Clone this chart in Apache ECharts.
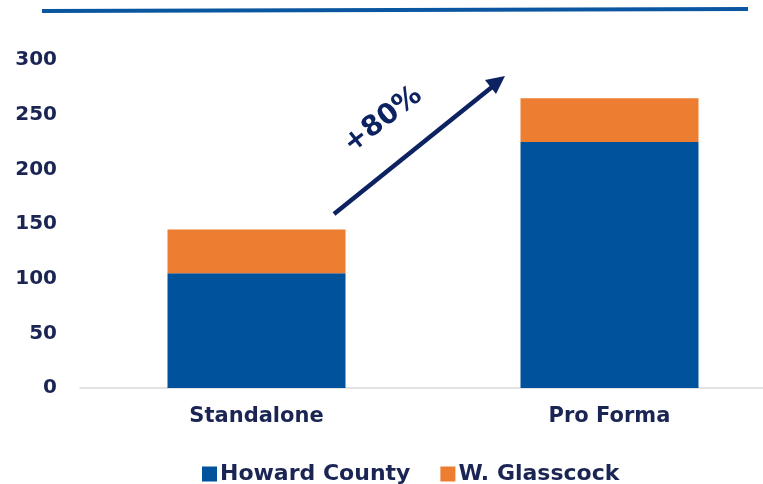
<!DOCTYPE html>
<html>
<head>
<meta charset="utf-8">
<script src="https://cdn.jsdelivr.net/npm/echarts@6/dist/echarts.min.js"></script>
<style>
  html, body { margin: 0; padding: 0; background: #fff; }
  #chart1 { width: 763px; height: 484px; }
</style>
</head>
<body>
<div id="chart1"></div>
<script>
var categories = ['Standalone', 'Pro Forma'];
var howardCounty = [105, 225];
var wGlasscock = [40, 40];
var yTicks = [0, 50, 100, 150, 200, 250, 300];
var growthLabel = '+80%';

var navy = '#1b2553';
var font = 'DejaVu Sans';

var chart = echarts.init(document.getElementById('chart1'));

var option = {
    animation: false,
    grid: { left: 80, width: 706, top: 60, bottom: 96, outerBoundsMode: 'none', containLabel: false },
    legend: {
        left: 197,
        top: 458,
        itemWidth: 15,
        itemHeight: 15,
        itemGap: 30,
        icon: 'rect',
        textStyle: { color: navy, fontFamily: font, fontWeight: 'bold', fontSize: 22, padding: [0, 0, 0, -2] },
        data: ['Howard County', 'W. Glasscock']
    },
    xAxis: {
        type: 'category',
        data: categories,
        axisTick: { show: false },
        axisLine: { lineStyle: { color: '#d9d9d9', width: 1.5 } },
        axisLabel: { color: navy, fontFamily: font, fontWeight: 'bold', fontSize: 21, margin: 18 }
    },
    yAxis: {
        type: 'value',
        min: yTicks[0],
        max: yTicks[yTicks.length - 1],
        interval: 50,
        splitLine: { show: false },
        axisLine: { show: false },
        axisTick: { show: false },
        axisLabel: { color: navy, fontFamily: font, fontWeight: 'bold', fontSize: 20, margin: 23 }
    },
    series: [
        {
            name: 'Howard County',
            type: 'bar',
            stack: 'total',
            barWidth: 178,
            itemStyle: { color: '#01529c' },
            data: howardCounty
        },
        {
            name: 'W. Glasscock',
            type: 'bar',
            stack: 'total',
            barWidth: 178,
            itemStyle: { color: '#ed7d31' },
            data: wGlasscock
        }
    ],
    graphic: [
        // header rule
        {
            type: 'line',
            shape: { x1: 42, y1: 11, x2: 748, y2: 9 },
            style: { stroke: '#0b56a0', lineWidth: 4 }
        },
        // growth arrow
        {
            type: 'line',
            shape: { x1: 334, y1: 214, x2: 492, y2: 87 },
            style: { stroke: '#0d2261', lineWidth: 4.5 }
        },
        {
            type: 'polygon',
            shape: { points: [[505, 76], [496, 94], [485, 80]] },
            style: { fill: '#0d2261' }
        },
        {
            type: 'text',
            x: 383,
            y: 120,
            rotation: 0.66,
            style: {
                text: growthLabel,
                fill: '#0d2261',
                font: 'bold 28px "DejaVu Sans"',
                align: 'center',
                verticalAlign: 'middle'
            }
        }
    ]
};

chart.setOption(option);
</script>
</body>
</html>
